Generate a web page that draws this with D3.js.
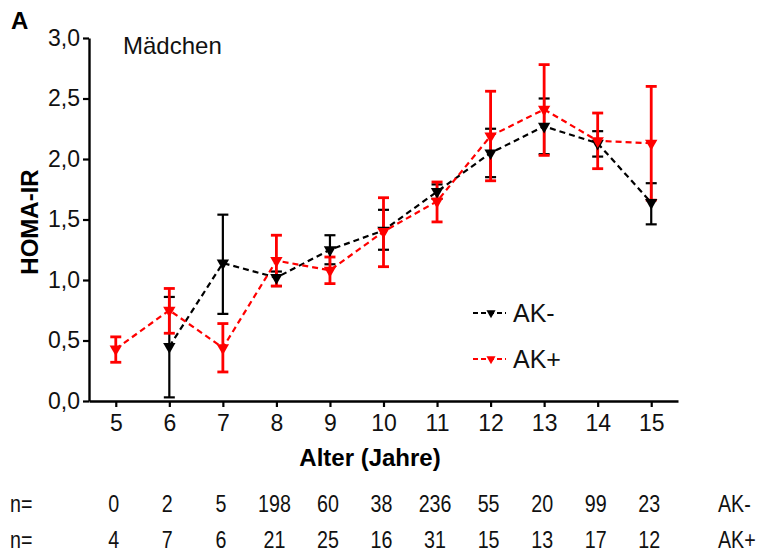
<!DOCTYPE html>
<html>
<head>
<meta charset="utf-8">
<script src="https://cdn.jsdelivr.net/npm/d3@7"></script>
<style>
  html, body { margin: 0; padding: 0; background: #fff; }
  svg { display: block; font-family: "Liberation Sans", Arial, Helvetica, sans-serif; }
</style>
</head>
<body>
<svg id="chart" width="764" height="556"></svg>
<script>
// ---- data ----
const ages = [5, 6, 7, 8, 9, 10, 11, 12, 13, 14, 15];
const yTicks = [0, 0.5, 1.0, 1.5, 2.0, 2.5, 3.0];

const akMinusMean = [null, 0.45, 1.14, 1.02, 1.25, 1.41, 1.73, 2.05, 2.27, 2.13, 1.64];
const akMinusLow  = [null, 0.03, 0.72, 0.95, 1.13, 1.25, 1.67, 1.85, 2.04, 2.02, 1.46];
const akMinusHigh = [null, 0.86, 1.54, 1.07, 1.37, 1.58, 1.79, 2.25, 2.50, 2.23, 1.80];

const akPlusMean = [0.43, 0.75, 0.44, 1.16, 1.08, 1.40, 1.65, 2.19, 2.41, 2.15, 2.13];
const akPlusLow  = [0.32, 0.56, 0.24, 0.95, 0.97, 1.11, 1.48, 1.82, 2.03, 1.92, 1.66];
const akPlusHigh = [0.53, 0.93, 0.64, 1.37, 1.19, 1.68, 1.81, 2.56, 2.78, 2.38, 2.60];

const nMinus = ["0", "2", "5", "198", "60", "38", "236", "55", "20", "99", "23"];
const nPlus  = ["4", "7", "6", "21", "25", "16", "31", "15", "13", "17", "12"];

const seriesNames = ["AK-", "AK+"];
const seriesColors = ["#000000", "#ff0000"];

// ---- build ----
const svg = d3.select("#chart");
const x = d3.scaleLinear().domain([4.5, 15.5]).range([89, 678]);
const y = d3.scaleLinear().domain([0, 3]).range([401, 38]);

const series = [
  { name: seriesNames[0], color: seriesColors[0], mean: akMinusMean, lo: akMinusLow, hi: akMinusHigh, ew: 2.2 },
  { name: seriesNames[1], color: seriesColors[1], mean: akPlusMean, lo: akPlusLow, hi: akPlusHigh, ew: 2.8 }
].map(s => ({ ...s, pts: ages.map((a, i) => ({ age: a, m: s.mean[i], lo: s.lo[i], hi: s.hi[i] })).filter(d => d.m != null) }));

// axes
const yAxis = d3.axisLeft(y).tickValues(yTicks).tickSize(6).tickSizeOuter(0).tickPadding(3)
  .tickFormat(d => d.toFixed(1).replace(".", ","));
const gy = svg.append("g").attr("transform", "translate(89,0)").call(yAxis);
const xAxis = d3.axisBottom(x).tickValues(ages).tickSize(6).tickSizeOuter(0).tickPadding(8).tickFormat(d3.format("d"));
const gx = svg.append("g").attr("transform", "translate(0,401)").call(xAxis);
[gx, gy].forEach(g => {
  g.select(".domain").attr("stroke", "#000").attr("stroke-width", 2.4);
  g.selectAll(".tick line").attr("stroke", "#000").attr("stroke-width", 2.2);
  g.selectAll(".tick text").attr("font-size", 23).attr("fill", "#111").attr("font-family", "Liberation Sans, Arial, sans-serif");
});

// error bars
series.forEach(s => {
  const g = svg.append("g");
  s.pts.forEach(d => {
    g.append("line").attr("x1", x(d.age)).attr("x2", x(d.age)).attr("y1", y(d.lo)).attr("y2", y(d.hi))
      .attr("stroke", s.color).attr("stroke-width", s.ew);
    [d.lo, d.hi].forEach(v => {
      g.append("line").attr("x1", x(d.age) - 5.5).attr("x2", x(d.age) + 5.5).attr("y1", y(v)).attr("y2", y(v))
        .attr("stroke", s.color).attr("stroke-width", s.ew);
    });
  });
});

// lines
const line = d3.line().x(d => x(d.age)).y(d => y(d.m));
series.forEach(s => {
  svg.append("path").datum(s.pts).attr("d", line).attr("fill", "none")
    .attr("stroke", s.color).attr("stroke-width", 2.2).attr("stroke-dasharray", "6,4");
});

// markers
const tri = d3.symbol().type(d3.symbolTriangle).size(66);
series.forEach(s => {
  svg.append("g").selectAll("path").data(s.pts).join("path")
    .attr("d", tri)
    .attr("transform", d => `translate(${x(d.age)},${y(d.m)}) rotate(180)`)
    .attr("fill", s.color);
});

// legend
const triSmall = d3.symbol().type(d3.symbolTriangle).size(36);
series.forEach((s, i) => {
  const ly = 313 + i * 46;
  svg.append("line").attr("x1", 473).attr("x2", 506).attr("y1", ly).attr("y2", ly)
    .attr("stroke", s.color).attr("stroke-width", 2).attr("stroke-dasharray", "5,3");
  svg.append("path").attr("d", triSmall).attr("transform", `translate(491,${ly}) rotate(180)`).attr("fill", s.color);
  svg.append("text").attr("x", 513).attr("y", ly).attr("dy", "0.36em").attr("font-size", 25).attr("fill", "#111").text(s.name);
});

// titles
svg.append("text").attr("x", 11).attr("y", 29).attr("font-size", 24).attr("font-weight", "bold").text("A");
svg.append("text").attr("x", 123).attr("y", 54).attr("font-size", 24).attr("fill", "#111").text("Mädchen");
svg.append("text").attr("transform", "translate(29,222) rotate(-90)").attr("text-anchor", "middle").attr("dy", "0.36em")
  .attr("font-size", 24).attr("font-weight", "bold").text("HOMA-IR");
svg.append("text").attr("x", 370).attr("y", 466).attr("text-anchor", "middle")
  .attr("font-size", 24).attr("font-weight", "bold").text("Alter (Jahre)");

// n= rows
const rows = [ { vals: nMinus, label: seriesNames[0], by: 512 }, { vals: nPlus, label: seriesNames[1], by: 548 } ];
rows.forEach(r => {
  const addText = (tx, anchor, str) => svg.append("text")
    .attr("transform", `translate(${tx},${r.by}) scale(0.82,1)`)
    .attr("text-anchor", anchor).attr("font-size", 24).attr("fill", "#111").text(str);
  addText(10, "start", "n=");
  r.vals.forEach((v, i) => addText(x(ages[i]) - 2, "middle", v));
  addText(718, "start", r.label);
});
</script>
</body>
</html>
